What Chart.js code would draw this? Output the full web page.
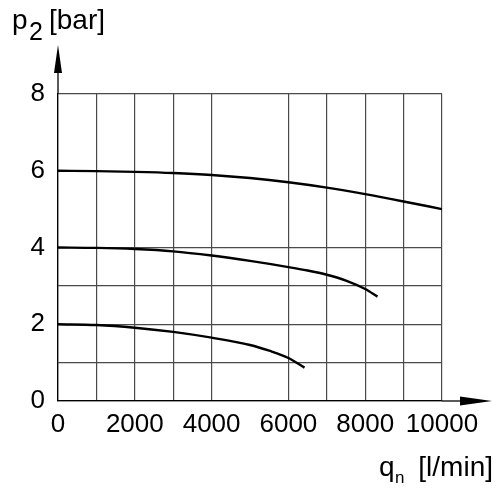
<!DOCTYPE html>
<html>
<head>
<meta charset="utf-8">
<script src="https://cdn.jsdelivr.net/npm/chart.js@4/dist/chart.umd.min.js"></script>
<style>
  html, body { margin: 0; padding: 0; background: #fff; }
  #wrap { position: relative; width: 497px; height: 493px; }
</style>
</head>
<body>
<div id="wrap"><canvas id="pressureChart" width="497" height="493"></canvas></div>
<script>
// flow q_n [l/min] and secondary pressure p2 [bar]
const flowHigh = [0, 1000, 2000, 3000, 4000, 5000, 6000, 7000, 8000, 9000, 10000];
const pressHigh = [6.00, 5.99, 5.97, 5.94, 5.89, 5.81, 5.70, 5.56, 5.39, 5.20, 5.00];

const flowMid = [0, 1000, 2000, 3000, 4000, 5000, 6000, 6500, 7000, 7500, 8000, 8320];
const pressMid = [4.00, 3.99, 3.96, 3.90, 3.79, 3.65, 3.49, 3.40, 3.29, 3.14, 2.92, 2.72];

const flowLow = [0, 1000, 2000, 3000, 4000, 5000, 5500, 6000, 6420];
const pressLow = [2.00, 1.98, 1.91, 1.80, 1.65, 1.46, 1.31, 1.12, 0.87];

const xTickLabels = [0, 2000, 4000, 6000, 8000, 10000];
const yTickLabels = [0, 2, 4, 6, 8];
const xGridValues = [0, 1000, 2000, 3000, 4000, 6000, 7000, 8000, 9000, 10000];
const yGridValues = [0, 1, 2, 3, 4, 8];

const FONT = "'Liberation Sans', Arial, Helvetica, sans-serif";
const GRID = '#4a4a4a';

function toPoints(xs, ys) {
    return xs.map((x, i) => ({ x: x, y: ys[i] }));
}

function curve(xs, ys) {
    return {
        data: toPoints(xs, ys),
        borderColor: '#000',
        borderWidth: 2.4,
        pointRadius: 0,
        showLine: true,
        fill: false,
        cubicInterpolationMode: 'monotone'
    };
}

// arrows on the axes and the axis titles (with subscripts)
const axisDecor = {
    id: 'axisDecor',
    afterDraw(chart) {
        const ctx = chart.ctx;
        const area = chart.chartArea;
        ctx.save();
        ctx.fillStyle = '#000';
        ctx.strokeStyle = '#000';
        ctx.lineWidth = 1.3;

        // y axis extension + arrow
        ctx.beginPath();
        ctx.moveTo(area.left, area.top);
        ctx.lineTo(area.left, 70);
        ctx.stroke();
        ctx.beginPath();
        ctx.moveTo(area.left, 45);
        ctx.lineTo(area.left - 4, 73);
        ctx.lineTo(area.left + 4, 73);
        ctx.closePath();
        ctx.fill();

        // x axis extension + arrow
        ctx.beginPath();
        ctx.moveTo(area.right, area.bottom);
        ctx.lineTo(462, area.bottom);
        ctx.stroke();
        ctx.beginPath();
        ctx.moveTo(492, area.bottom);
        ctx.lineTo(460, area.bottom - 4.5);
        ctx.lineTo(460, area.bottom + 4.5);
        ctx.closePath();
        ctx.fill();

        // axis titles
        ctx.textBaseline = 'alphabetic';
        ctx.textAlign = 'left';
        ctx.font = '28px ' + FONT;
        ctx.fillText('p', 12, 29);
        ctx.font = '25px ' + FONT;
        ctx.fillText('2', 29, 40);
        ctx.font = '28px ' + FONT;
        ctx.fillText('[bar]', 49, 29);

        ctx.fillText('q', 379, 476);
        ctx.font = '17px ' + FONT;
        ctx.fillText('n', 395, 483);
        ctx.font = '28px ' + FONT;
        ctx.textAlign = 'right';
        ctx.fillText('[l/min]', 493, 476);
        ctx.restore();
    }
};

const chart = new Chart(document.getElementById('pressureChart'), {
    type: 'scatter',
    data: {
        datasets: [
            curve(flowHigh, pressHigh),
            curve(flowMid, pressMid),
            curve(flowLow, pressLow)
        ]
    },
    options: {
        responsive: false,
        animation: false,
        devicePixelRatio: 1,
        layout: { padding: { top: 94, right: 55, left: 0, bottom: 0 } },
        plugins: {
            legend: { display: false },
            tooltip: { enabled: false }
        },
        scales: {
            x: {
                type: 'linear',
                min: 0,
                max: 10000,
                afterBuildTicks: (scale) => {
                    scale.ticks = [];
                    for (let v = 0; v <= 10000; v += 1000) scale.ticks.push({ value: v });
                },
                afterFit: (scale) => { scale.height = 92; },
                ticks: {
                    autoSkip: false,
                    maxRotation: 0,
                    padding: 8,
                    color: '#000',
                    font: { family: FONT, size: 26 },
                    callback: (v) => xTickLabels.includes(v) ? String(v) : ''
                },
                grid: {
                    drawTicks: false,
                    lineWidth: 1.2,
                    color: (c) => xGridValues.includes(c.tick.value) ? GRID : 'rgba(0,0,0,0)'
                },
                border: { display: true, color: '#000', width: 1.3 }
            },
            y: {
                type: 'linear',
                min: 0,
                max: 8,
                afterBuildTicks: (scale) => {
                    scale.ticks = [];
                    for (let v = 0; v <= 8; v += 1) scale.ticks.push({ value: v });
                },
                afterFit: (scale) => { scale.width = 58; },
                ticks: {
                    autoSkip: false,
                    padding: 13,
                    color: '#000',
                    font: { family: FONT, size: 26 },
                    callback: (v) => yTickLabels.includes(v) ? String(v) : ''
                },
                grid: {
                    drawTicks: false,
                    lineWidth: 1.2,
                    color: (c) => yGridValues.includes(c.tick.value) ? GRID : 'rgba(0,0,0,0)'
                },
                border: { display: true, color: '#000', width: 1.3 }
            }
        }
    },
    plugins: [axisDecor]
});
</script>
</body>
</html>
